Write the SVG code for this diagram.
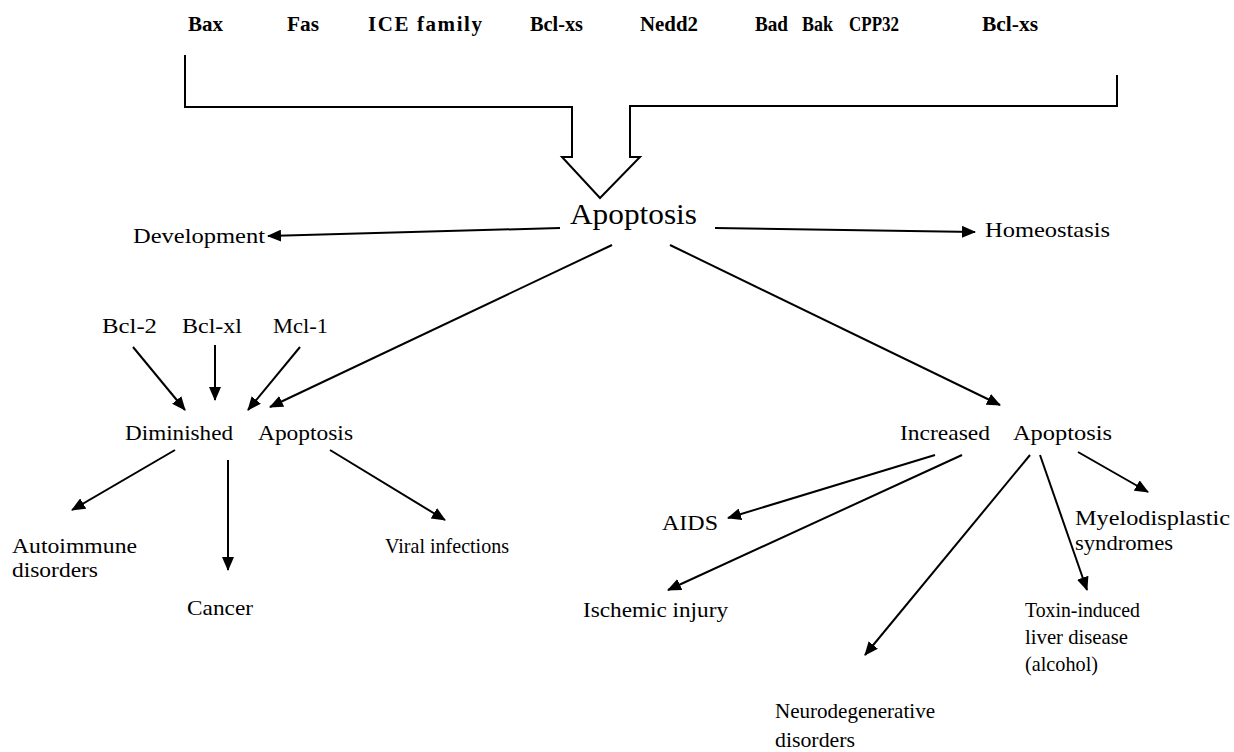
<svg xmlns="http://www.w3.org/2000/svg" width="1234" height="752" viewBox="0 0 1234 752">
<style>
text{font-family:"Liberation Serif","Times New Roman",serif;fill:#000;font-size:21px}
.top{font-weight:bold;font-size:21px}
.big{font-size:30px}
.ln{stroke:#000;stroke-width:2;fill:none}
</style>
<defs>
<marker id="ah" viewBox="0 0 14 12" refX="13" refY="6" markerWidth="14" markerHeight="12" markerUnits="userSpaceOnUse" orient="auto">
<path d="M0,0 L14,6 L0,12 Z" fill="#000"/>
</marker>
</defs>
<rect width="1234" height="752" fill="#fff"/>
<g id="inputs">
<text class="top" x="188" y="31" textLength="35" lengthAdjust="spacingAndGlyphs">Bax</text>
<text class="top" x="287" y="31" textLength="32" lengthAdjust="spacingAndGlyphs">Fas</text>
<text class="top" x="368" y="31" textLength="114" lengthAdjust="spacing">ICE  family</text>
<text class="top" x="530" y="31" textLength="53" lengthAdjust="spacingAndGlyphs">Bcl-xs</text>
<text class="top" x="640" y="31" textLength="58" lengthAdjust="spacingAndGlyphs">Nedd2</text>
<text class="top" x="755" y="31" textLength="33" lengthAdjust="spacingAndGlyphs">Bad</text>
<text class="top" x="802" y="31" textLength="31" lengthAdjust="spacingAndGlyphs">Bak</text>
<text class="top" x="849" y="31" textLength="50" lengthAdjust="spacingAndGlyphs">CPP32</text>
<text class="top" x="982" y="31" textLength="56" lengthAdjust="spacingAndGlyphs">Bcl-xs</text>
</g>
<g id="apoptosis"><text class="big" x="570" y="224" textLength="127" lengthAdjust="spacingAndGlyphs">Apoptosis</text></g>
<g id="development"><text x="133" y="243" textLength="132" lengthAdjust="spacingAndGlyphs">Development</text></g>
<g id="homeostasis"><text x="985" y="237" textLength="125" lengthAdjust="spacingAndGlyphs">Homeostasis</text></g>
<g id="bcl2"><text x="102" y="333" textLength="55" lengthAdjust="spacingAndGlyphs">Bcl-2</text></g>
<g id="bclxl"><text x="182" y="333" textLength="60" lengthAdjust="spacingAndGlyphs">Bcl-xl</text></g>
<g id="mcl1"><text x="273" y="333" textLength="55" lengthAdjust="spacingAndGlyphs">Mcl-1</text></g>
<g id="diminished"><text y="440"><tspan x="125" textLength="108" lengthAdjust="spacingAndGlyphs">Diminished</tspan><tspan x="258" textLength="95" lengthAdjust="spacingAndGlyphs">Apoptosis</tspan></text></g>
<g id="increased"><text y="440"><tspan x="900" textLength="90" lengthAdjust="spacingAndGlyphs">Increased</tspan><tspan x="1013" textLength="99" lengthAdjust="spacingAndGlyphs">Apoptosis</tspan></text></g>
<g id="autoimmune"><text x="12" y="553" textLength="125" lengthAdjust="spacingAndGlyphs">Autoimmune</text><text x="12" y="577" textLength="86" lengthAdjust="spacingAndGlyphs">disorders</text></g>
<g id="cancer"><text x="187" y="615" textLength="66" lengthAdjust="spacingAndGlyphs">Cancer</text></g>
<g id="viral"><text x="385" y="553" textLength="124" lengthAdjust="spacingAndGlyphs">Viral infections</text></g>
<g id="aids"><text x="662" y="530" textLength="56" lengthAdjust="spacingAndGlyphs">AIDS</text></g>
<g id="ischemic"><text x="583" y="617" textLength="145" lengthAdjust="spacingAndGlyphs">Ischemic injury</text></g>
<g id="neuro"><text x="775" y="718" textLength="160" lengthAdjust="spacingAndGlyphs">Neurodegenerative</text><text x="775" y="747" textLength="80" lengthAdjust="spacingAndGlyphs">disorders</text></g>
<g id="toxin"><text x="1025" y="617" textLength="115" lengthAdjust="spacingAndGlyphs">Toxin-induced</text><text x="1025" y="644" textLength="103" lengthAdjust="spacingAndGlyphs">liver disease</text><text x="1025" y="671" textLength="73" lengthAdjust="spacingAndGlyphs">(alcohol)</text></g>
<g id="myelo"><text x="1075" y="525" textLength="155" lengthAdjust="spacingAndGlyphs">Myelodisplastic</text><text x="1075" y="550" textLength="98" lengthAdjust="spacingAndGlyphs">syndromes</text></g>
<g id="connectors">
<path class="ln" d="M185,55 V107 H572 V157 H562 L600,198 L640,157 H630 V106 H1117 V75"/>
<line class="ln" x1="560" y1="228" x2="268" y2="236" marker-end="url(#ah)"/>
<line class="ln" x1="715" y1="228" x2="975" y2="232" marker-end="url(#ah)"/>
<line class="ln" x1="612" y1="245" x2="270" y2="407" marker-end="url(#ah)"/>
<line class="ln" x1="670" y1="245" x2="1000" y2="405" marker-end="url(#ah)"/>
<line class="ln" x1="133" y1="347" x2="185" y2="410" marker-end="url(#ah)"/>
<line class="ln" x1="215" y1="345" x2="215" y2="400" marker-end="url(#ah)"/>
<line class="ln" x1="300" y1="347" x2="248" y2="410" marker-end="url(#ah)"/>
<line class="ln" x1="175" y1="450" x2="72" y2="510" marker-end="url(#ah)"/>
<line class="ln" x1="228" y1="460" x2="228" y2="570" marker-end="url(#ah)"/>
<line class="ln" x1="330" y1="450" x2="445" y2="520" marker-end="url(#ah)"/>
<line class="ln" x1="935" y1="455" x2="728" y2="518" marker-end="url(#ah)"/>
<line class="ln" x1="962" y1="455" x2="668" y2="590" marker-end="url(#ah)"/>
<line class="ln" x1="1030" y1="455" x2="865" y2="655" marker-end="url(#ah)"/>
<line class="ln" x1="1040" y1="455" x2="1087" y2="590" marker-end="url(#ah)"/>
<line class="ln" x1="1078" y1="452" x2="1148" y2="492" marker-end="url(#ah)"/>
</g>
</svg>
